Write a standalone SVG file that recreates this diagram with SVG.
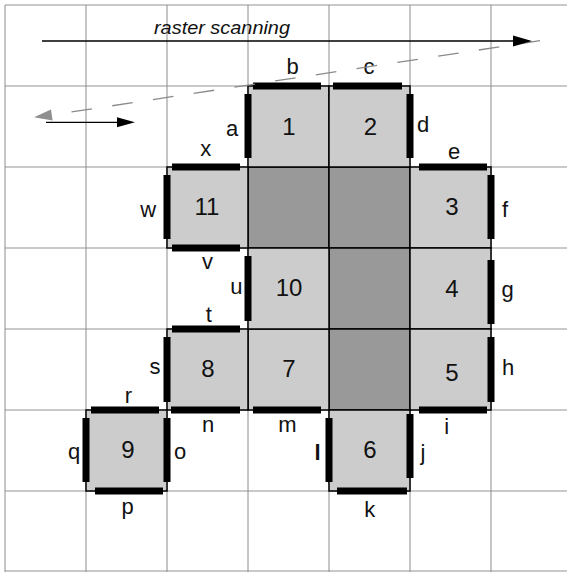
<svg xmlns="http://www.w3.org/2000/svg" width="567" height="572" viewBox="0 0 567 572">
<style>
.gh{stroke:#b8b8b8;stroke-width:1.5;fill:none}
.gv{stroke:#8c8c8c;stroke-width:1;fill:none}
.lc{fill:#cccccc;stroke:#000;stroke-width:1.5}
.dc{fill:#999999;stroke:#000;stroke-width:1.5}
.bar{fill:#000}
.num{font-family:"Liberation Sans",Arial,sans-serif;font-size:24px;text-anchor:middle;fill:#111}
.lab{font-family:"Liberation Sans",Arial,sans-serif;font-size:22px;text-anchor:middle;fill:#111}
</style>
<rect width="567" height="572" fill="#fff"/>
<g id="grid">
<path class="gh" d="M5 5H567M5 86H567M5 167H567M5 248H567M5 329H567M5 410H567M5 491H567M5 571H567"/>
<path class="gv" d="M5 5V572M86 5V572M167 5V572M248 5V572M329 5V572M410 5V572M491 5V572"/>
</g>
<g id="dark-cells">
<rect class="dc" x="248" y="167" width="81" height="81"/>
<rect class="dc" x="329" y="167" width="81" height="81"/>
<rect class="dc" x="329" y="248" width="81" height="81"/>
<rect class="dc" x="329" y="329" width="81" height="81"/>
</g>
<g id="cell1"><rect class="lc" x="248" y="86" width="81" height="81"/><text class="num" x="289" y="135">1</text></g>
<g id="cell2"><rect class="lc" x="329" y="86" width="81" height="81"/><text class="num" x="370.5" y="134.5">2</text></g>
<g id="cell3"><rect class="lc" x="410" y="167" width="81" height="81"/><text class="num" x="452" y="214.5">3</text></g>
<g id="cell4"><rect class="lc" x="410" y="248" width="81" height="81"/><text class="num" x="452" y="297">4</text></g>
<g id="cell5"><rect class="lc" x="410" y="329" width="81" height="81"/><text class="num" x="452" y="381">5</text></g>
<g id="cell6"><rect class="lc" x="329" y="410" width="81" height="81"/><text class="num" x="370" y="458">6</text></g>
<g id="cell7"><rect class="lc" x="248" y="329" width="81" height="81"/><text class="num" x="289" y="377">7</text></g>
<g id="cell8"><rect class="lc" x="167" y="329" width="81" height="81"/><text class="num" x="208" y="377">8</text></g>
<g id="cell9"><rect class="lc" x="86" y="410" width="81" height="81"/><text class="num" x="128" y="458">9</text></g>
<g id="cell10"><rect class="lc" x="248" y="248" width="81" height="81"/><text class="num" x="289" y="296">10</text></g>
<g id="cell11"><rect class="lc" x="167" y="167" width="81" height="81"/><text class="num" x="207" y="215">11</text></g>
<g id="edges">
<rect class="bar" x="253" y="82.5" width="68" height="7"/>
<rect class="bar" x="333" y="82.5" width="69" height="7"/>
<rect class="bar" x="419" y="163.5" width="68" height="7"/>
<rect class="bar" x="172" y="163.5" width="68" height="7"/>
<rect class="bar" x="172" y="244.5" width="68" height="7"/>
<rect class="bar" x="172" y="325.5" width="68" height="7"/>
<rect class="bar" x="171" y="406.5" width="69" height="7"/>
<rect class="bar" x="253" y="406.5" width="68" height="7"/>
<rect class="bar" x="91" y="406.5" width="68" height="7"/>
<rect class="bar" x="95" y="487.5" width="68" height="7"/>
<rect class="bar" x="337" y="487.5" width="70" height="7"/>
<rect class="bar" x="419" y="406.5" width="68" height="7"/>
<rect class="bar" x="244.5" y="94" width="7" height="64"/>
<rect class="bar" x="406.5" y="94" width="7" height="64"/>
<rect class="bar" x="163.5" y="175" width="7" height="64"/>
<rect class="bar" x="487.5" y="175" width="7" height="64"/>
<rect class="bar" x="244.5" y="256" width="7" height="65"/>
<rect class="bar" x="487.5" y="260" width="7" height="64"/>
<rect class="bar" x="163.5" y="337" width="7" height="65"/>
<rect class="bar" x="487.5" y="337" width="7" height="65"/>
<rect class="bar" x="82.5" y="418" width="7" height="64"/>
<rect class="bar" x="163.5" y="418" width="7" height="64"/>
<rect class="bar" x="325.5" y="418" width="7" height="64"/>
<rect class="bar" x="406.5" y="414" width="7" height="64"/>
</g>
<g id="edge-labels">
<text class="lab" x="232" y="136">a</text>
<text class="lab" x="292.5" y="74">b</text>
<text class="lab" x="369" y="74">c</text>
<text class="lab" x="423" y="132">d</text>
<text class="lab" x="454" y="159">e</text>
<text class="lab" x="505" y="217">f</text>
<text class="lab" x="507.5" y="297">g</text>
<text class="lab" x="508" y="375">h</text>
<text class="lab" x="446.7" y="434">i</text>
<text class="lab" x="423" y="459.5">j</text>
<text class="lab" x="369.7" y="516.5">k</text>
<text class="lab" x="317.5" y="460" font-weight="bold">l</text>
<text class="lab" x="287.5" y="432">m</text>
<text class="lab" x="208" y="432">n</text>
<text class="lab" x="180" y="459">o</text>
<text class="lab" x="127.5" y="513.5">p</text>
<text class="lab" x="74" y="459">q</text>
<text class="lab" x="128.3" y="403.3">r</text>
<text class="lab" x="155" y="374.3">s</text>
<text class="lab" x="208.7" y="322">t</text>
<text class="lab" x="236.3" y="294">u</text>
<text class="lab" x="207.5" y="269">v</text>
<text class="lab" x="148.3" y="216.7">w</text>
<text class="lab" x="205.7" y="156">x</text>
</g>
<g id="connectors">
<path d="M540 40.7L52 114.9" stroke="#8a8a8a" stroke-width="1.3" stroke-dasharray="20.7 20.5" fill="none"/>
<polygon points="34,117.3 52.6,120.4 51,109.6" fill="#8f8f8f"/>
<line x1="42" y1="41" x2="515" y2="41" stroke="#000" stroke-width="1.3"/>
<polygon points="532,41 513,35.5 513,46.5" fill="#000"/>
<line x1="46" y1="122.3" x2="118" y2="122.3" stroke="#000" stroke-width="1.3"/>
<polygon points="135,122.3 117,117.3 117,127.3" fill="#000"/>
<text x="154" y="33.5" font-family="'Liberation Sans',Arial,sans-serif" font-size="19" font-style="italic" textLength="136" lengthAdjust="spacingAndGlyphs" fill="#111">raster scanning</text>
</g>
</svg>
